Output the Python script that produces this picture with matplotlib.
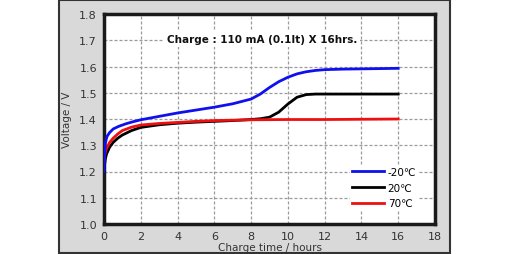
import numpy as np
import matplotlib
matplotlib.use("Agg")
import matplotlib.pyplot as plt
from matplotlib.patches import Rectangle

# charge time (hours) and voltage
t_m20 = [0, 0.03, 0.08, 0.16, 0.3, 0.5, 0.8, 1.2, 1.6, 2, 3, 4, 5, 6, 7, 8, 8.5, 9, 9.5, 10, 10.5, 11, 11.5, 12, 13, 14, 15, 16]
v_m20 = [1.20, 1.26, 1.31, 1.333, 1.348, 1.362, 1.372, 1.382, 1.39, 1.397, 1.41, 1.423, 1.434, 1.445, 1.458, 1.476, 1.495, 1.52, 1.542, 1.559, 1.572, 1.58, 1.585, 1.588, 1.59, 1.591, 1.592, 1.593]
t_20 = [0, 0.03, 0.08, 0.14, 0.3, 0.5, 0.75, 1, 1.5, 2, 3, 4, 5, 6, 7, 8, 8.5, 9, 9.5, 10, 10.5, 11, 11.5, 12, 13, 14, 15, 16]
v_20 = [1.20, 1.225, 1.25, 1.267, 1.292, 1.311, 1.327, 1.339, 1.356, 1.368, 1.378, 1.384, 1.388, 1.391, 1.394, 1.398, 1.401, 1.407, 1.426, 1.457, 1.483, 1.493, 1.495, 1.495, 1.495, 1.495, 1.495, 1.495]
t_70 = [0, 0.03, 0.08, 0.14, 0.3, 0.5, 0.75, 1, 1.5, 2, 3, 4, 5, 6, 8, 10, 12, 14, 16]
v_70 = [1.236, 1.26, 1.276, 1.288, 1.31, 1.327, 1.343, 1.356, 1.369, 1.377, 1.383, 1.387, 1.391, 1.394, 1.397, 1.398, 1.398, 1.399, 1.40]

series = [(t_m20, v_m20, "#1010ee", "-20\u2103"),
          (t_20, v_20, "#000000", "20\u2103"),
          (t_70, v_70, "#ee1010", "70\u2103")]

plt.rcParams['font.family'] = ['DejaVu Sans', 'Noto Sans CJK JP']

fig = plt.figure(figsize=(5.1, 2.55), dpi=100)
fig.patch.set_facecolor("white")
panel = Rectangle((59 / 510, 1 / 255), 391 / 510, 253 / 255,
                  transform=fig.transFigure, facecolor="#d9d9d9",
                  edgecolor="#333333", linewidth=1.5, zorder=-10)
fig.add_artist(panel)

ax = fig.add_axes([104 / 510, 30 / 255, 331 / 510, 210 / 255])
ax.set_zorder(1)
ax.set_facecolor("white")

# black drawn first, then red, blue on top (as in the reference)
for i in [1, 2, 0]:
    t, v, c, lab = series[i]
    ax.plot(t, v, color=c, lw=2.0, label=lab, zorder=3 + i * 0)

ax.set_xlim(0, 18)
ax.set_ylim(1.0, 1.8)
ax.set_xticks(np.arange(0, 19, 2))
ax.set_yticks(np.arange(1.0, 1.81, 0.1))
ax.set_yticklabels(["%.1f" % y for y in np.arange(1.0, 1.81, 0.1)])
ax.grid(True, ls=(0, (2.4, 1.6)), color="#9a9a9a", lw=0.9)
ax.set_axisbelow(True)
ax.tick_params(length=0, labelsize=8, colors="#333333", pad=5)
for s in ax.spines.values():
    s.set_linewidth(2.5)
    s.set_color("#1a1a1a")

ax.set_xlabel("Charge time / hours", fontsize=7.5, color="#333333", labelpad=1)
ax.set_ylabel("Voltage / V", fontsize=7.5, color="#333333", labelpad=5)

ax.text(8.6, 1.705, "Charge : 110 mA (0.1It) X 16hrs.", ha="center", va="center",
        fontsize=7.5, fontweight="semibold", color="#111111",
        bbox=dict(facecolor="white", edgecolor="none", pad=2))

handles, labels = ax.get_legend_handles_labels()
order = [labels.index(s[3]) for s in series]
leg = ax.legend([handles[k] for k in order], [labels[k] for k in order],
                loc="lower right", bbox_to_anchor=(0.965, 0.04), frameon=True,
                fontsize=7.5, handlelength=3.1, handletextpad=0.3, labelspacing=0.55,
                borderpad=0.2)
leg.get_frame().set_edgecolor("none")
leg.get_frame().set_facecolor("white")
leg.get_frame().set_alpha(1)

fig.savefig("out.png", dpi=100)
